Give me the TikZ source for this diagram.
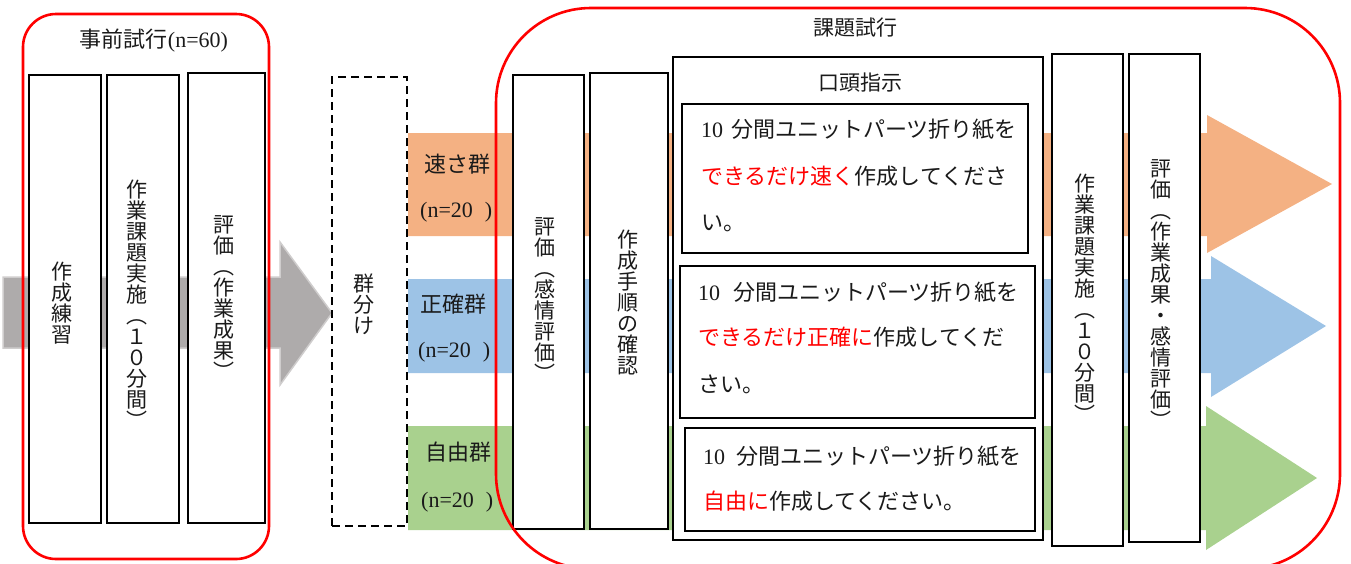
\documentclass[tikz,border=0pt]{standalone}
\usepackage{fontspec}
\setmainfont{Liberation Serif}
\newfontfamily\cjk{Noto Sans CJK JP}
\usetikzlibrary{fit}
\definecolor{bandorange}{HTML}{F4B183}
\definecolor{bandblue}{HTML}{9DC3E6}
\definecolor{bandgreen}{HTML}{A9D18E}
\definecolor{arrowgray}{HTML}{AEABAB}
\definecolor{arrowedge}{HTML}{CFCDCD}
\definecolor{txt}{HTML}{1A1A1A}
\definecolor{redline}{HTML}{FF0000}
\begin{document}
\begin{tikzpicture}[x=1pt,y=-1pt,
  box/.style={draw=black, line width=1.8pt, fill=white, inner sep=0pt},
  dashbox/.style={draw=black, line width=2pt, dash pattern=on 8pt off 5pt, inner sep=0pt},
  redframe/.style={draw=redline, line width=2.6pt},
  vtxt/.style={font=\cjk\fontsize{21}{21}\selectfont, align=center, inner sep=0pt, text=txt},
  ltxt/.style={font=\fontsize{22}{22}\selectfont, inner sep=0pt, text=txt, text height=17.6pt, text depth=2.2pt},
  wtxt/.style={ltxt, anchor=west},
  ttl/.style={font=\fontsize{21}{21}\selectfont, inner sep=0pt, text=txt},
]
\useasboundingbox (0,0) rectangle (1351,563);
\clip (0,0) rectangle (1351,563);

% gray arrow
\filldraw[fill=arrowgray, draw=arrowedge, line width=1.5pt] (3,277) -- (280,277) -- (280,242) -- (332,313) -- (280,385) -- (280,348) -- (3,348) -- cycle;
% colored band arrows
\fill[bandorange] (408,133) -- (1207,133) -- (1207,115) -- (1332,184) -- (1207,253) -- (1207,236) -- (408,236) -- cycle;
\fill[bandblue] (408,279) -- (1211,279) -- (1211,256) -- (1326,326) -- (1211,397) -- (1211,373) -- (408,373) -- cycle;
\fill[bandgreen] (408,426) -- (1206,426) -- (1206,406) -- (1317,478) -- (1206,550) -- (1206,530) -- (408,530) -- cycle;

% pre-trial
\node[box, fit={(29,75) (101,523)}] (b1) {};
\node[box, fit={(107,75) (179,523)}] (b2) {};
\node[box, fit={(188,73) (265,523)}] (b3) {};
\draw[redframe, rounded corners=33pt] (23,14) rectangle (269,559);
\node[ttl, font=\fontsize{22}{22}\selectfont] (pretitle) at (154,41) {{\cjk 事前試行}(n=60)};
\node[vtxt] (b1t) at (62,303) {作\\成\\練\\習};
\node[vtxt] (b2t) at (137,304) {作\\業\\課\\題\\実\\施\\︵\\１\\０\\分\\間\\︶};
\node[vtxt] (b3t) at (224,298) {評\\価\\︵\\作\\業\\成\\果\\︶};

% grouping
\node[dashbox, fit={(332,77) (407,526)}] (grp) {};
\node[vtxt] (grpt) at (364,304) {群\\分\\け};

% group labels
\node[ltxt, font=\cjk\fontsize{22}{22}\selectfont] (g1) at (457,165) {速さ群};
\node[wtxt, font=\fontsize{22}{22}\selectfont] (g1n) at (420,210) {(n=20\hspace{12pt})};
\node[ltxt, font=\cjk\fontsize{22}{22}\selectfont] (g2) at (453,305) {正確群};
\node[wtxt, font=\fontsize{22}{22}\selectfont] (g2n) at (418,350) {(n=20\hspace{12pt})};
\node[ltxt, font=\cjk\fontsize{22}{22}\selectfont] (g3) at (458,453) {自由群};
\node[wtxt, font=\fontsize{22}{22}\selectfont] (g3n) at (421,500) {(n=20\hspace{12pt})};

% task trial boxes
\node[box, fit={(513,75) (584,529)}] (ba) {};
\node[box, fit={(590,73) (668,529)}] (bb) {};
\node[box, fit={(673,57) (1043,540)}] (oral) {};
\node[box, fit={(682,104) (1028,253)}] (i1) {};
\node[box, fit={(680,266) (1035,418)}] (i2) {};
\node[box, fit={(685,428) (1035,531)}] (i3) {};
\node[box, fit={(1052,54) (1123,546)}] (bc) {};
\node[box, fit={(1129,54) (1200,542)}] (bd) {};

\node[vtxt] (bat) at (545,300) {評\\価\\︵\\感\\情\\評\\価\\︶};
\node[vtxt] (bbt) at (628,302) {作\\成\\手\\順\\の\\確\\認};
\node[vtxt] (bct) at (1085,298) {作\\業\\課\\題\\実\\施\\︵\\１\\０\\分\\間\\︶};
\node[vtxt] (bdt) at (1161,294) {評\\価\\︵\\作\\業\\成\\果\\・\\感\\情\\評\\価\\︶};

\node[ttl, font=\cjk\fontsize{21}{21}\selectfont] (oralt) at (860,83) {口頭指示};

\node[wtxt] (i1a) at (701,130) {10\hspace{8pt}{\cjk 分間ユニットパーツ折り紙を}};
\node[wtxt] (i1b) at (701,177) {\cjk\textcolor{redline}{できるだけ速く}作成してくださ};
\node[wtxt] (i1c) at (701,223) {\cjk い。};
\node[wtxt] (i2a) at (698,293) {10\hspace{13pt}{\cjk 分間ユニットパーツ折り紙を}};
\node[wtxt] (i2b) at (698,338) {\cjk\textcolor{redline}{できるだけ正確に}作成してくだ};
\node[wtxt] (i2c) at (698,385) {\cjk さい。};
\node[wtxt] (i3a) at (703,457) {10\hspace{11pt}{\cjk 分間ユニットパーツ折り紙を}};
\node[wtxt] (i3b) at (703,502) {\cjk\textcolor{redline}{自由に}作成してください。};

% task trial frame
\draw[redframe, rounded corners=95pt] (496,8) rectangle (1340,569);
\node[ttl, font=\cjk\fontsize{21}{21}\selectfont] (tasktitle) at (855,28) {課題試行};
\end{tikzpicture}
\end{document}
